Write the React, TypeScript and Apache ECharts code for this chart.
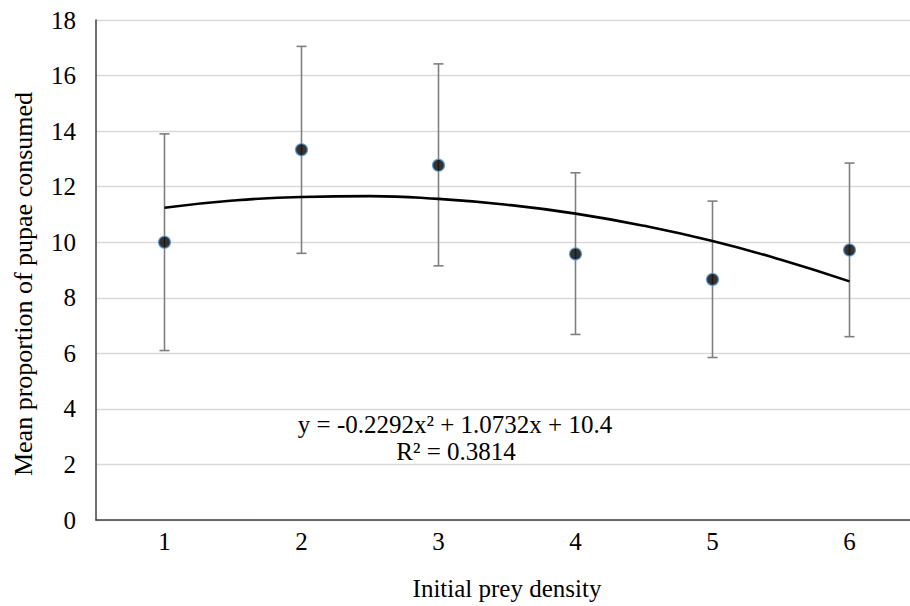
import React, { useEffect, useRef } from "react";
import * as echarts from "echarts";

const categories = ["1", "2", "3", "4", "5", "6"];
const means = [10.0, 13.33, 12.77, 9.58, 8.66, 9.72];
const lows = [6.1, 9.6, 9.15, 6.68, 5.85, 6.6];
const highs = [13.9, 17.05, 16.42, 12.5, 11.48, 12.85];
const trendX = [1, 1.5, 2, 2.5, 3, 3.5, 4, 4.5, 5, 5.5, 6];
const trendY = [11.24, 11.5, 11.63, 11.66, 11.56, 11.35, 11.03, 10.59, 10.04, 9.37, 8.59];
const yTicks = { min: 0, max: 18, interval: 2 };
const equationText = "y = -0.2292x² + 1.0732x + 10.4";
const r2Text = "R² = 0.3814";
const xTitle = "Initial prey density";
const yTitle = "Mean proportion of pupae consumed";

const FONT = "'Liberation Serif'";

export default function App() {
  const ref = useRef<HTMLDivElement>(null);
  useEffect(() => {
    if (!ref.current) return;
    const chart = echarts.init(ref.current, null, { renderer: "svg" });
    const errData = categories.map((_, i) => [i, lows[i], highs[i]]);
    chart.setOption({
      animation: false,
      backgroundColor: "#fff",
      textStyle: { fontFamily: FONT },
      grid: { left: 96, right: 0, top: 20, bottom: 79, containLabel: false },
      xAxis: [
        {
          type: "category",
          data: categories,
          boundaryGap: true,
          name: xTitle,
          nameLocation: "middle",
          nameGap: 56,
          nameTextStyle: { fontSize: 25, color: "#000", fontFamily: FONT },
          axisLine: { lineStyle: { color: "#404040", width: 1.5 } },
          axisTick: { show: false },
          axisLabel: { fontSize: 25, color: "#000", margin: 9, fontFamily: FONT },
          splitLine: { show: false },
        },
        {
          type: "value",
          min: 0.5,
          max: 6.5,
          show: false,
          position: "bottom",
        },
      ],
      yAxis: {
        type: "value",
        min: yTicks.min,
        max: yTicks.max,
        interval: yTicks.interval,
        name: yTitle,
        nameLocation: "middle",
        nameGap: 60,
        nameTextStyle: { fontSize: 26, color: "#000", fontFamily: FONT, padding: [0, 28, 0, 0] },
        axisLine: { show: true, lineStyle: { color: "#404040", width: 1.5 } },
        axisTick: { show: false },
        axisLabel: { fontSize: 25, color: "#000", margin: 20, fontFamily: FONT },
        splitLine: { lineStyle: { color: "#d9d9d9", width: 1.3 } },
      },
      series: [
        {
          type: "custom",
          xAxisIndex: 0,
          encode: { x: 0, y: [1, 2] },
          data: errData,
          z: 2,
          renderItem: (params: any, api: any) => {
            const x = api.value(0);
            const lo = api.coord([x, api.value(1)]);
            const hi = api.coord([x, api.value(2)]);
            const cap = 5;
            const style = { stroke: "#7f7f7f", lineWidth: 1.6 };
            return {
              type: "group",
              children: [
                { type: "line", shape: { x1: lo[0], y1: lo[1], x2: hi[0], y2: hi[1] }, style },
                { type: "line", shape: { x1: hi[0] - cap, y1: hi[1], x2: hi[0] + cap, y2: hi[1] }, style },
                { type: "line", shape: { x1: lo[0] - cap, y1: lo[1], x2: lo[0] + cap, y2: lo[1] }, style },
              ],
            };
          },
        },
        {
          type: "line",
          xAxisIndex: 1,
          data: trendX.map((x, i) => [x, trendY[i]]),
          smooth: true,
          showSymbol: false,
          symbol: "none",
          lineStyle: { color: "#000", width: 2.6 },
          z: 3,
        },
        {
          type: "scatter",
          xAxisIndex: 0,
          data: means,
          symbol: "circle",
          symbolSize: 12,
          itemStyle: { color: "#000", borderColor: "#5b9bd5", borderWidth: 1.3 },
          z: 4,
        },
      ],
      graphic: [
        {
          type: "text",
          x: 455,
          y: 424,
          style: {
            text: equationText,
            fontSize: 25,
            fontFamily: FONT,
            fill: "#000",
            textAlign: "center",
            textVerticalAlign: "middle",
          },
        },
        {
          type: "text",
          x: 456,
          y: 451,
          style: {
            text: r2Text,
            fontSize: 25,
            fontFamily: FONT,
            fill: "#000",
            textAlign: "center",
            textVerticalAlign: "middle",
          },
        },
      ],
    });
    return () => chart.dispose();
  }, []);
  return (
    <div
      style={{ position: "absolute", left: 0, top: 0, width: 910, height: 606, overflow: "hidden" }}
    >
      <div ref={ref} style={{ width: 918, height: 606 }} />
    </div>
  );
}
